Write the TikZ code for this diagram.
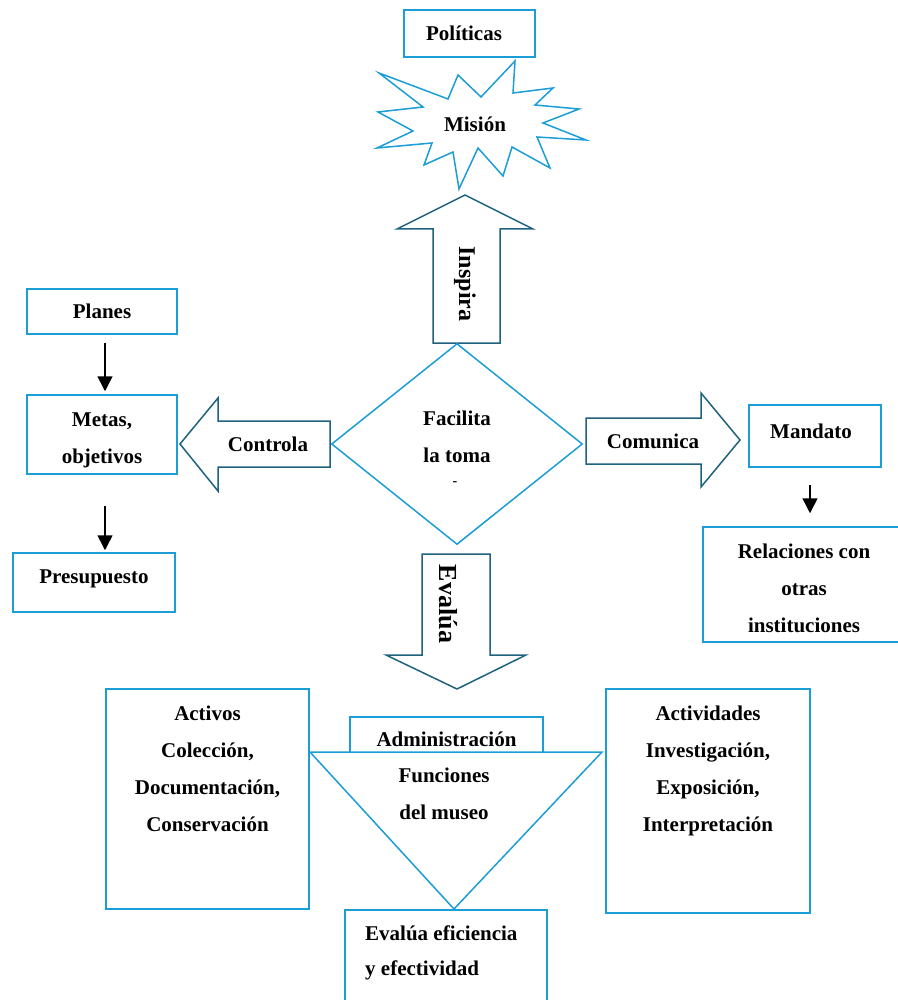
\documentclass[tikz,border=0pt]{standalone}
\usepackage{fontspec}
\setmainfont{Liberation Serif}
\usetikzlibrary{shapes,arrows.meta,positioning}
\definecolor{boxblue}{RGB}{27,157,214}
\definecolor{arrowteal}{RGB}{31,98,126}

\begin{document}
\begin{tikzpicture}[x=1pt, y=-1pt,
    box/.style={draw=boxblue, line width=1.5pt, fill=white, inner sep=0pt, font=\bfseries\fontsize{21}{37}\selectfont, align=center},
    txt/.style={inner sep=0pt, font=\bfseries\fontsize{21}{37}\selectfont, align=center},
    bigarrow/.style={draw=arrowteal, line width=1.5pt, fill=white, line join=miter},
    downarrow/.style={-{Triangle[length=15pt,width=15pt]}, line width=1.5pt, black}]

    \useasboundingbox (0,0) rectangle (897,1000);

    % top
    \node[box, minimum width=131pt, minimum height=47pt](politicas) at (469.5,33.5) {};
    \node[txt](politicastext) at (464,33.5) {Políticas};
    \draw[boxblue, line width=1.5pt, fill=white] (379,73) -- (448,99) -- (458,75) -- (481,97) -- (515,61) -- (513,93) -- (553,88) -- (535,105) -- (579,109) -- (543,123) -- (586,140) -- (537,137) -- (550,168) -- (512,147) -- (503,176) -- (478,148) -- (459,189) -- (453,152) -- (424,165) -- (432,143) -- (377,148) -- (413,131) -- (378,112) -- (423,107) -- cycle;
    \node[txt](mision) at (475,124) {Misión};

    \draw[bigarrow] (433,343) -- (433,229) -- (397,229) -- (465,195) -- (533,229) -- (500,229) -- (500,343) -- cycle;
    \node[txt, rotate=-90, font=\bfseries\fontsize{24}{28}\selectfont](inspira) at (465,284) {Inspira};

    % centre
    \node[draw=boxblue, line width=1.5pt, shape=diamond, minimum width=251pt, minimum height=201pt, inner sep=0pt](toma) at (457,444) {};
    \node[txt](facilita) at (457,436.5) {Facilita\\la toma};
    \node[txt, font=\bfseries\fontsize{14}{14}\selectfont](guion) at (455,484) {-};

    \draw[bigarrow] (330,421) -- (218,421) -- (218,398) -- (180,444) -- (218,491) -- (218,467) -- (330,467) -- cycle;
    \node[txt](controla) at (268,444) {Controla};

    \draw[bigarrow] (586,418) -- (701,418) -- (701,393) -- (740,440) -- (701,487) -- (701,464) -- (586,464) -- cycle;
    \node[txt](comunica) at (653,441) {Comunica};

    \draw[bigarrow] (422,554) -- (490,554) -- (490,655) -- (526,655) -- (457,689) -- (386,655) -- (422,655) -- cycle;
    \node[txt, rotate=-90, font=\bfseries\fontsize{26}{30}\selectfont](evalua) at (448,604) {Evalúa};

    % left
    \node[box, minimum width=150pt, minimum height=45pt](planes) at (102,311.5) {Planes};
    \node[box, minimum width=150pt, minimum height=79pt](metas) at (102,434.5) {};
    \node[txt](metastext) at (102,440) {Metas,\\objetivos};
    \node[box, minimum width=162pt, minimum height=59pt](presupuesto) at (94,582.5) {};
    \node[txt](presupuestotext) at (94,579) {Presupuesto};

    % right
    \node[box, minimum width=132pt, minimum height=62pt](mandato) at (815,436) {};
    \node[txt](mandatotext) at (811,431) {Mandato};
    \node[box, minimum width=202pt, minimum height=115pt](relaciones) at (804,584.5) {};
    \node[txt](relacionestext) at (804,588) {Relaciones con\\otras\\instituciones};

    \draw[downarrow, shorten <=8pt, shorten >=3pt] ([xshift=3pt]planes.south) -- ([xshift=3pt]metas.north);
    \draw[downarrow, shorten <=31pt, shorten >=2pt] ([xshift=3pt]metas.south) -- ([xshift=3pt]metas.south |- presupuesto.north);
    \draw[downarrow, shorten <=17pt, shorten >=13pt] ([xshift=-5pt]mandato.south) -- ([xshift=-5pt]mandato.south |- relaciones.north);

    % bottom
    \node[box, minimum width=203pt, minimum height=220pt](activos) at (207.5,799) {};
    \node[txt](activostext) at (207.5,768.5) {Activos\\Colección,\\Documentación,\\Conservación};
    \node[box, minimum width=204pt, minimum height=224pt](actividades) at (708,801) {};
    \node[txt](actividadestext) at (708,771) {Actividades\\Investigación,\\Exposición,\\Interpretación};

    \node[box, minimum width=193pt, minimum height=45pt](admin) at (446.5,739.5) {Administración};
    \draw[boxblue, line width=1.5pt, fill=white] (310,752) -- (602,752) -- (454,909) -- cycle;
    \node[txt](funciones) at (444,794) {Funciones\\del museo};

    \node[box, minimum width=202pt, minimum height=100pt](eficiencia) at (446,960) {};
    \node[txt, align=left, anchor=west, font=\bfseries\fontsize{21}{35}\selectfont](eficienciatext) at (365,953) {Evalúa eficiencia\\y efectividad};

\end{tikzpicture}
\end{document}
